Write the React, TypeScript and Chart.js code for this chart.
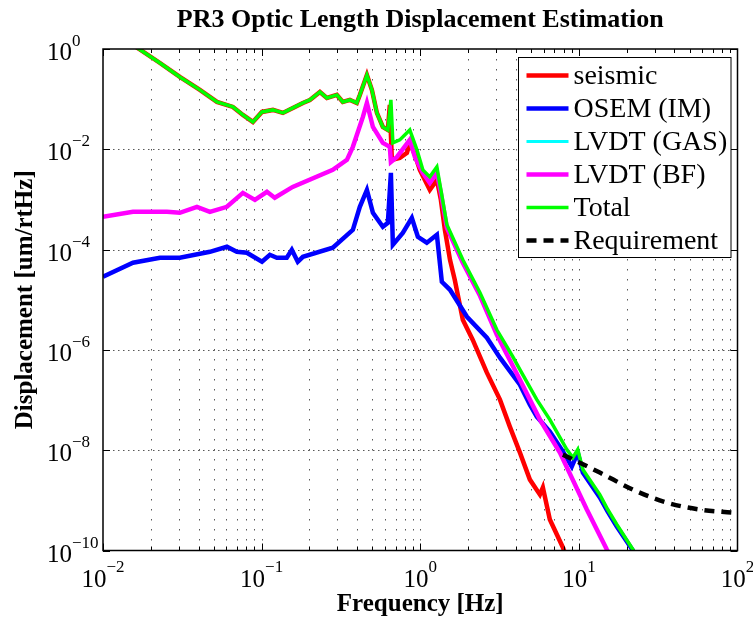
import { useEffect, useRef } from 'react';
import { Chart, registerables } from 'chart.js';

Chart.register(...registerables);

// ---------- data (frequency in Hz, displacement in um/rtHz) ----------
// low-frequency part where seismic and total coincide
const sharedFreq = [0.01, 0.01687, 0.02286, 0.0305, 0.0408, 0.0523, 0.0659, 0.0762, 0.0881, 0.1005, 0.1178, 0.1362, 0.1574, 0.182, 0.2015, 0.233, 0.258, 0.298, 0.325, 0.36, 0.398, 0.416, 0.461, 0.496, 0.533, 0.581, 0.625];
const sharedValue = [3.0, 1.0, 0.526, 0.277, 0.153, 0.088, 0.07, 0.0484, 0.0351, 0.0556, 0.061, 0.0531, 0.0668, 0.084, 0.0964, 0.139, 0.1057, 0.1213, 0.088, 0.0964, 0.084, 0.1213, 0.303, 0.152, 0.0531, 0.0279, 0.0243];

const seismicTailFreq = [0.643, 0.662, 0.743, 0.824, 0.859, 0.925, 0.994, 1.149, 1.273, 1.349, 1.43, 1.54, 1.65, 1.855, 2.14, 2.63, 3.18, 3.67, 4.25, 4.91, 5.68, 5.93, 6.56, 7.93, 8.26];
const seismicTailValue = [0.0766, 0.00615, 0.00674, 0.00848, 0.0134, 0.00773, 0.00389, 0.00155, 0.00246, 9.82e-4, 2.48e-4, 6.26e-5, 2.5e-5, 4.0e-6, 1.6e-6, 3.52e-7, 1.02e-7, 2.95e-8, 8.95e-9, 2.59e-9, 1.3e-9, 1.8e-9, 4.15e-10, 1.15e-10, 8e-11];

const totalTailFreq = [0.653, 0.672, 0.743, 0.859, 0.953, 1.038, 1.149, 1.273, 1.349, 1.472, 1.855, 2.38, 3.04, 3.83, 4.25, 5.43, 6.56, 8.4, 9.16, 9.84, 10.59, 13.55, 15.2, 17.34, 21.9, 23.5];
const totalTailValue = [0.0964, 0.0134, 0.0154, 0.0243, 0.00973, 0.00389, 0.00282, 0.00446, 1.55e-3, 3.12e-4, 6.26e-5, 1.38e-5, 2.52e-6, 7.32e-7, 4.03e-7, 1.02e-7, 4.07e-8, 1.03e-8, 7.12e-9, 1.03e-8, 4.11e-9, 1.3e-9, 6.56e-10, 3.3e-10, 1.05e-10, 7e-11];

const osemFreq = [0.01, 0.01545, 0.02286, 0.0305, 0.0472, 0.0604, 0.0698, 0.0807, 0.1005, 0.1127, 0.1247, 0.144, 0.155, 0.169, 0.182, 0.281, 0.376, 0.416, 0.461, 0.503, 0.581, 0.625, 0.653, 0.672, 0.776, 0.885, 0.966, 1.1, 1.273, 1.368, 1.54, 1.97, 2.63, 3.18, 4.25, 4.91, 5.43, 6.56, 7.93, 9.02, 9.84, 10.59, 13.55, 15.2, 17.34, 21.9, 23.0];
const osemValue = [2.87e-5, 5.46e-5, 6.87e-5, 6.87e-5, 9.04e-5, 1.14e-4, 9.04e-5, 8.63e-5, 5.71e-5, 7.88e-5, 6.87e-5, 6.87e-5, 9.91e-5, 5.71e-5, 7.19e-5, 1.09e-4, 2.48e-4, 7.13e-4, 1.55e-3, 5.41e-4, 2.85e-4, 3.42e-4, 3.39e-3, 1.25e-4, 2.16e-4, 4.3e-4, 1.8e-4, 1.37e-4, 1.97e-4, 2.28e-5, 1.58e-5, 4.58e-6, 1.75e-6, 7.0e-7, 2.03e-7, 8.1e-8, 4.67e-8, 2.35e-8, 9.4e-9, 4.71e-9, 8.95e-9, 3.58e-9, 1.14e-9, 5.98e-10, 3.0e-10, 1.0e-10, 8e-11];

const lvdtGasFreq: number[] = [];
const lvdtGasValue: number[] = [];

const lvdtBfFreq = [0.01, 0.01545, 0.0253, 0.0305, 0.0391, 0.0472, 0.0604, 0.0762, 0.0907, 0.108, 0.121, 0.157, 0.281, 0.345, 0.376, 0.435, 0.461, 0.503, 0.581, 0.643, 0.653, 0.713, 0.859, 0.925, 1.038, 1.149, 1.273, 1.349, 1.472, 1.855, 2.38, 3.04, 4.25, 5.68, 7.59, 11.22, 15.0, 15.7];
const lvdtBfValue = [4.5e-4, 5.66e-4, 5.66e-4, 5.41e-4, 7.13e-4, 5.66e-4, 7.13e-4, 1.35e-3, 9.82e-4, 1.42e-3, 1.08e-3, 1.78e-3, 3.89e-3, 6.15e-3, 0.0112, 0.0442, 0.084, 0.0279, 0.0134, 0.0112, 0.00561, 0.00706, 0.0154, 0.00706, 0.00339, 0.00214, 0.00339, 1.35e-3, 2.72e-4, 5.46e-5, 1.2e-5, 2.0e-6, 2.55e-7, 4.07e-8, 8.95e-9, 6.56e-10, 1.05e-10, 8e-11];

const requirementFreq = [7.93, 13.55, 21.9, 35.8, 57.8, 93.3];
const requirementValue = [8.17e-9, 3.58e-9, 1.64e-9, 9.03e-10, 6.56e-10, 5.71e-10];

const xTickExponents = [-2, -1, 0, 1, 2];
const yTickExponents = [0, -2, -4, -6, -8, -10];
const minorSteps = [2, 3, 4, 5, 6, 7, 8, 9];

const seismicFreq = [...sharedFreq, ...seismicTailFreq];
const seismicValue = [...sharedValue, ...seismicTailValue];
const totalFreq = [...sharedFreq, ...totalTailFreq];
const totalValue = [...sharedValue, ...totalTailValue];

const FONT = "'Liberation Serif', 'Times New Roman', Times, serif";

const pts = (f: number[], v: number[]) => f.map((x, i) => ({ x, y: v[i] }));

const supLabel = (e: number) => (e < 0 ? '\u2212' : '') + Math.abs(e);

const matlabAxes = {
  id: 'matlabAxes',
  beforeDatasetsDraw(chart: any) {
    const { ctx, chartArea: a, scales } = chart;
    const xs = scales.x;
    const ys = scales.y;
    ctx.save();
    ctx.strokeStyle = 'rgba(0,0,0,0.65)';
    ctx.lineWidth = 1;
    // vertical dotted grid at every 1..9 x decade
    ctx.setLineDash([1.5, 8.5]);
    for (let d = xTickExponents[0]; d < xTickExponents[xTickExponents.length - 1]; d++) {
      for (const m of [1, ...minorSteps]) {
        const px = xs.getPixelForValue(m * Math.pow(10, d));
        if (px <= a.left + 1 || px >= a.right - 1) continue;
        const X = Math.round(px) + 0.5;
        ctx.beginPath();
        ctx.moveTo(X, a.bottom);
        ctx.lineTo(X, a.top);
        ctx.stroke();
      }
    }
    // horizontal dotted grid at labelled decades
    ctx.setLineDash([1.5, 3.5]);
    for (const e of yTickExponents) {
      const py = ys.getPixelForValue(Math.pow(10, e));
      if (py <= a.top + 1 || py >= a.bottom - 1) continue;
      const Y = Math.round(py) + 0.5;
      ctx.beginPath();
      ctx.moveTo(a.left, Y);
      ctx.lineTo(a.right, Y);
      ctx.stroke();
    }
    ctx.restore();
  },
  afterDraw(chart: any) {
    const { ctx, chartArea: a, scales } = chart;
    const xs = scales.x;
    const ys = scales.y;
    ctx.save();
    ctx.setLineDash([]);
    ctx.strokeStyle = '#000';
    ctx.lineWidth = 1;
    // tick marks (inside)
    for (let d = xTickExponents[0]; d < xTickExponents[xTickExponents.length - 1]; d++) {
      for (const m of [1, ...minorSteps]) {
        const px = xs.getPixelForValue(m * Math.pow(10, d));
        const len = m === 1 ? 7 : 4;
        const X = Math.round(px) + 0.5;
        ctx.beginPath();
        ctx.moveTo(X, a.bottom);
        ctx.lineTo(X, a.bottom - len);
        ctx.moveTo(X, a.top);
        ctx.lineTo(X, a.top + len);
        ctx.stroke();
      }
    }
    for (const e of yTickExponents) {
      const Y = Math.round(ys.getPixelForValue(Math.pow(10, e))) + 0.5;
      ctx.beginPath();
      ctx.moveTo(a.left, Y);
      ctx.lineTo(a.left + 7, Y);
      ctx.moveTo(a.right, Y);
      ctx.lineTo(a.right - 7, Y);
      ctx.stroke();
    }
    // frame
    ctx.lineWidth = 1.5;
    ctx.strokeRect(a.left, a.top, a.right - a.left, a.bottom - a.top);

    // tick labels 10^n
    ctx.fillStyle = '#000';
    ctx.textBaseline = 'alphabetic';
    ctx.textAlign = 'left';
    const baseFont = `25px ${FONT}`;
    const expFont = `17px ${FONT}`;
    ctx.font = baseFont;
    const wBase = ctx.measureText('10').width;
    for (const e of xTickExponents) {
      const px = xs.getPixelForValue(Math.pow(10, e));
      ctx.font = expFont;
      const wExp = ctx.measureText(supLabel(e)).width;
      const start = px - (wBase + wExp) / 2;
      ctx.font = baseFont;
      ctx.fillText('10', start, a.bottom + 36.5);
      ctx.font = expFont;
      ctx.fillText(supLabel(e), start + wBase, a.bottom + 21.5);
    }
    for (const e of yTickExponents) {
      const py = ys.getPixelForValue(Math.pow(10, e));
      const start = a.left - 56;
      ctx.font = baseFont;
      ctx.fillText('10', start, py + 11);
      ctx.font = expFont;
      ctx.fillText(supLabel(e), start + wBase, py - 3);
    }

    // legend box (inside, top right)
    const datasets = chart.data.datasets;
    ctx.font = `28px ${FONT}`;
    const textW = Math.max(...datasets.map((d: any) => ctx.measureText(d.label).width));
    const boxW = 55 + textW + 4;
    const rowH = 33;
    const boxH = 18 + rowH * (datasets.length - 1) + 17;
    const boxRight = a.right - 6.5;
    const boxLeft = Math.round(boxRight - boxW) + 0.5;
    const boxTop = a.top + 8.5;
    ctx.fillStyle = '#fff';
    ctx.fillRect(boxLeft, boxTop, boxRight - boxLeft, boxH);
    ctx.lineWidth = 1;
    ctx.strokeStyle = '#000';
    ctx.strokeRect(boxLeft, boxTop, boxRight - boxLeft, boxH);
    datasets.forEach((d: any, i: number) => {
      const cy = boxTop + 18 + i * rowH;
      ctx.beginPath();
      ctx.setLineDash(d.borderDash || []);
      ctx.strokeStyle = d.borderColor;
      ctx.lineWidth = d.borderWidth;
      ctx.moveTo(boxLeft + 8, cy);
      ctx.lineTo(boxLeft + 50, cy);
      ctx.stroke();
      ctx.setLineDash([]);
      ctx.fillStyle = '#000';
      ctx.textBaseline = 'middle';
      ctx.fillText(d.label, boxLeft + 55, cy + 1.5);
    });
    ctx.restore();
  },
};

export default function App() {
  const canvasRef = useRef<HTMLCanvasElement | null>(null);

  useEffect(() => {
    const canvas = canvasRef.current;
    if (!canvas) return;
    const common = { pointRadius: 0, pointHoverRadius: 0, tension: 0, fill: false, clip: 0 };
    const chart = new Chart(canvas, {
      type: 'line',
      data: {
        datasets: [
          { label: 'seismic', data: pts(seismicFreq, seismicValue), borderColor: '#ff0000', borderWidth: 4.5, order: 6, ...common },
          { label: 'OSEM (IM)', data: pts(osemFreq, osemValue), borderColor: '#0000ff', borderWidth: 4.5, order: 5, ...common },
          { label: 'LVDT (GAS)', data: pts(lvdtGasFreq, lvdtGasValue), borderColor: '#00ffff', borderWidth: 3, order: 4, ...common },
          { label: 'LVDT (BF)', data: pts(lvdtBfFreq, lvdtBfValue), borderColor: '#ff00ff', borderWidth: 4.5, order: 3, ...common },
          { label: 'Total', data: pts(totalFreq, totalValue), borderColor: '#00ff00', borderWidth: 3.5, order: 2, ...common },
          { label: 'Requirement', data: pts(requirementFreq, requirementValue), borderColor: '#000000', borderWidth: 4.5, borderDash: [10, 7], order: 1, ...common, cubicInterpolationMode: 'monotone' },
        ] as any,
      },
      options: {
        animation: false,
        responsive: false,
        devicePixelRatio: 1,
        events: [],
        layout: { padding: { top: 0, right: 15.5, bottom: 0, left: 0 } },
        plugins: {
          legend: { display: false },
          tooltip: { enabled: false },
          title: {
            display: true,
            text: 'PR3 Optic Length Displacement Estimation',
            color: '#000',
            fullSize: false,
            font: { family: FONT, size: 26, weight: 'bold', lineHeight: 1 },
            padding: { top: 7, bottom: 16 },
          },
        },
        scales: {
          x: {
            type: 'logarithmic',
            min: 0.01,
            max: 100,
            grid: { display: false },
            border: { display: false },
            ticks: { display: false },
            title: {
              display: true,
              text: 'Frequency [Hz]',
              color: '#000',
              font: { family: FONT, size: 25, weight: 'bold', lineHeight: 1 },
              padding: { top: 0, bottom: 1 },
            },
            afterFit: (s: any) => { s.height = 67.5; },
          },
          y: {
            type: 'logarithmic',
            min: 1e-10,
            max: 1,
            grid: { display: false },
            border: { display: false },
            ticks: { display: false },
            title: {
              display: true,
              text: 'Displacement [um/rtHz]',
              color: '#000',
              font: { family: FONT, size: 25, weight: 'bold', lineHeight: 1 },
              padding: { top: 13.5, bottom: 0 },
            },
            afterFit: (s: any) => { s.width = 103; },
          },
        },
      } as any,
      plugins: [matlabAxes],
    });
    return () => chart.destroy();
  }, []);

  return (
    <div style={{ position: 'absolute', left: 0, top: 0, width: 753, height: 618, background: '#fff' }}>
      <canvas ref={canvasRef} width={753} height={618} />
    </div>
  );
}
